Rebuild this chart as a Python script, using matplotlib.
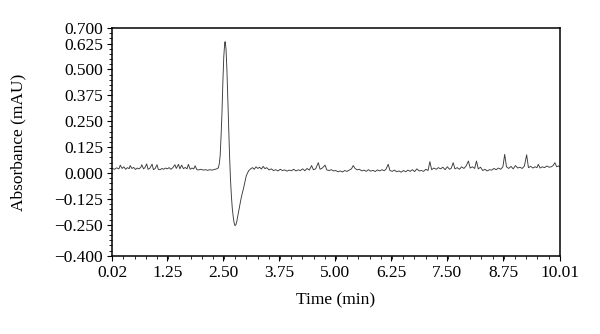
import matplotlib.pyplot as plt
import numpy as np

plt.rcParams['font.family'] = ['Liberation Serif', 'DejaVu Serif']

# baseline before the peak
t_pre = [0.02, 0.07, 0.12, 0.17, 0.20, 0.24, 0.28, 0.32, 0.36, 0.40, 0.42, 0.46,
         0.50, 0.54, 0.58, 0.62, 0.66, 0.68, 0.72, 0.75, 0.79, 0.82, 0.86, 0.91,
         0.94, 0.98, 1.02, 1.05, 1.09, 1.13, 1.17, 1.21, 1.25, 1.29, 1.33, 1.37,
         1.42, 1.45, 1.50, 1.53, 1.57, 1.61, 1.65, 1.69, 1.72, 1.76, 1.80, 1.84,
         1.87, 1.91, 1.95, 2.00, 2.05, 2.10, 2.15, 2.20, 2.25, 2.30, 2.35]
a_pre = [0.022, 0.018, 0.025, 0.020, 0.038, 0.022, 0.030, 0.018, 0.026, 0.021, 0.036, 0.022,
         0.027, 0.017, 0.024, 0.020, 0.028, 0.040, 0.020, 0.026, 0.044, 0.018, 0.023, 0.043,
         0.016, 0.022, 0.040, 0.017, 0.016, 0.022, 0.018, 0.024, 0.020, 0.026, 0.018, 0.025,
         0.040, 0.022, 0.042, 0.020, 0.038, 0.021, 0.027, 0.020, 0.042, 0.018, 0.024, 0.020,
         0.035, 0.016, 0.015, 0.018, 0.014, 0.016, 0.013, 0.016, 0.014, 0.017, 0.020]

# the peak and the negative dip
t_peak = [2.39, 2.41, 2.43, 2.45, 2.47, 2.49, 2.51, 2.53, 2.54, 2.56, 2.58, 2.60,
          2.62, 2.64, 2.66, 2.68, 2.70, 2.72, 2.74, 2.76, 2.78, 2.80, 2.83, 2.86,
          2.89, 2.92, 2.95, 2.98, 3.01, 3.04, 3.07]
a_peak = [0.025, 0.045, 0.085, 0.180, 0.290, 0.440, 0.560, 0.625, 0.634, 0.600, 0.500, 0.360,
          0.220, 0.080, -0.030, -0.110, -0.170, -0.210, -0.240, -0.254, -0.250, -0.235, -0.200, -0.165,
          -0.130, -0.100, -0.075, -0.045, -0.015, 0.000, 0.012]

# baseline after the peak
t_post = [3.11, 3.15, 3.19, 3.23, 3.27, 3.31, 3.35, 3.39, 3.43, 3.47, 3.52, 3.57,
          3.62, 3.67, 3.72, 3.77, 3.82, 3.87, 3.92, 3.97, 4.02, 4.07, 4.12, 4.17,
          4.22, 4.27, 4.32, 4.37, 4.42, 4.47, 4.51, 4.56, 4.62, 4.66, 4.71, 4.77,
          4.81, 4.86, 4.91, 4.96, 5.01, 5.06, 5.11, 5.16, 5.21, 5.26, 5.31, 5.36,
          5.40, 5.44, 5.49, 5.54, 5.59, 5.64, 5.69, 5.74, 5.79, 5.84, 5.89, 5.94,
          5.99, 6.04, 6.09, 6.13, 6.18, 6.22, 6.27, 6.32, 6.37, 6.42, 6.47, 6.52,
          6.57, 6.62, 6.67, 6.72, 6.77, 6.82, 6.87, 6.92, 6.97, 7.02, 7.07, 7.11,
          7.15, 7.20, 7.25, 7.30, 7.35, 7.40, 7.45, 7.50, 7.55, 7.59, 7.63, 7.67,
          7.72, 7.77, 7.82, 7.87, 7.92, 7.97, 8.01, 8.06, 8.11, 8.15, 8.19, 8.24,
          8.29, 8.34, 8.39, 8.44, 8.49, 8.54, 8.59, 8.64, 8.69, 8.74, 8.78, 8.82,
          8.87, 8.92, 8.97, 9.02, 9.07, 9.12, 9.17, 9.22, 9.27, 9.31, 9.36, 9.41,
          9.46, 9.50, 9.53, 9.57, 9.62, 9.67, 9.72, 9.77, 9.82, 9.86, 9.90, 9.94,
          9.98, 10.01]
a_post = [0.020, 0.026, 0.018, 0.030, 0.022, 0.028, 0.019, 0.032, 0.021, 0.026, 0.015, 0.020,
          0.012, 0.016, 0.010, 0.018, 0.012, 0.015, 0.009, 0.014, 0.011, 0.018, 0.010, 0.015,
          0.012, 0.020, 0.011, 0.022, 0.014, 0.036, 0.016, 0.020, 0.050, 0.018, 0.024, 0.038,
          0.015, 0.012, 0.016, 0.010, 0.012, 0.006, 0.010, 0.005, 0.012, 0.008, 0.014, 0.020,
          0.036, 0.022, 0.015, 0.018, 0.010, 0.014, 0.008, 0.016, 0.009, 0.013, 0.007, 0.015,
          0.010, 0.016, 0.011, 0.018, 0.042, 0.012, 0.008, 0.014, 0.006, 0.010, 0.004, 0.012,
          0.006, 0.014, 0.008, 0.016, 0.007, 0.020, 0.010, 0.012, 0.008, 0.018, 0.012, 0.055,
          0.016, 0.024, 0.018, 0.026, 0.020, 0.028, 0.016, 0.030, 0.018, 0.024, 0.050, 0.020,
          0.026, 0.018, 0.030, 0.022, 0.034, 0.058, 0.024, 0.030, 0.022, 0.058, 0.020, 0.028,
          0.012, 0.018, 0.010, 0.016, 0.014, 0.022, 0.016, 0.024, 0.018, 0.030, 0.090, 0.030,
          0.022, 0.032, 0.020, 0.036, 0.024, 0.028, 0.022, 0.034, 0.088, 0.026, 0.032, 0.024,
          0.030, 0.026, 0.042, 0.024, 0.030, 0.026, 0.034, 0.028, 0.030, 0.036, 0.050, 0.030,
          0.034, 0.030]

time = np.array(t_pre + t_peak + t_post)
absorbance = np.array(a_pre + a_peak + a_post)

x_ticks = [0.02, 1.25, 2.50, 3.75, 5.00, 6.25, 7.50, 8.75, 10.01]
x_labels = ['0.02', '1.25', '2.50', '3.75', '5.00', '6.25', '7.50', '8.75', '10.01']
y_ticks = [0.700, 0.625, 0.500, 0.375, 0.250, 0.125, 0.000, -0.125, -0.250, -0.400]
y_labels = ['0.700', '0.625', '0.500', '0.375', '0.250', '0.125', '0.000',
            '\u22120.125', '\u22120.250', '\u22120.400']

fig = plt.figure(figsize=(6, 3.34), dpi=100)
ax = fig.add_axes([0.187, 0.234, 0.746, 0.682])

ax.plot(time, absorbance, color='#3a3a3a', lw=0.65)

ax.set_xlim(0.02, 10.01)
ax.set_ylim(-0.4, 0.7)
ax.set_xticks(x_ticks)
ax.set_xticklabels(x_labels)
ax.set_xticks(np.linspace(0.02, 10.01, 41), minor=True)
ax.set_yticks(y_ticks)
ax.set_yticklabels(y_labels)
ax.set_yticks(np.arange(-0.4, 0.7001, 0.025), minor=True)

ax.tick_params(which='major', direction='out', length=3.5, width=0.8, labelsize=12.5, pad=3)
ax.tick_params(which='minor', direction='out', length=2, width=0.6)
ax.tick_params(top=False, right=False)
for s in ax.spines.values():
    s.set_linewidth(1.1)

ax.set_xlabel('Time (min)', fontsize=12.5, labelpad=8)
ax.set_ylabel('Absorbance (mAU)', fontsize=12.5, labelpad=20)

fig.savefig('out.png', dpi=100)
